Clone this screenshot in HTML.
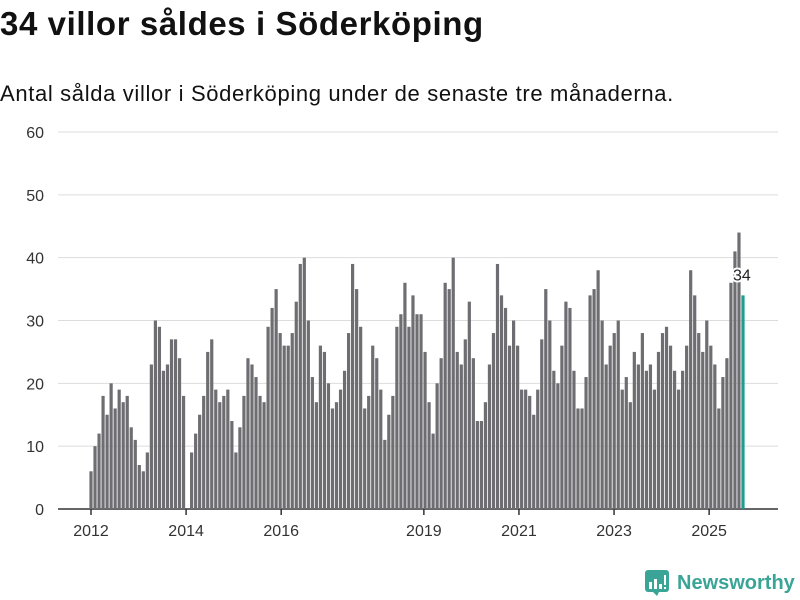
<!DOCTYPE html>
<html><head><meta charset="utf-8"><style>
body{margin:0;background:#fff;font-family:"Liberation Sans","DejaVu Sans",sans-serif;}
#wrap{position:relative;width:800px;height:600px;overflow:hidden;}
h1{position:absolute;left:0;top:5px;margin:0;font-size:33px;font-weight:bold;color:#111;letter-spacing:0.6px}
p.sub{position:absolute;left:0;top:81px;margin:0;font-size:22px;color:#111;letter-spacing:0.65px}
</style></head><body>
<div id="wrap">
<h1>34 villor såldes i Söderköping</h1>
<p class="sub">Antal sålda villor i Söderköping under de senaste tre månaderna.</p>
<svg id="chart" width="800" height="600" style="position:absolute;left:0;top:0"></svg>
<div style="position:absolute;left:645px;top:570px;display:flex;align-items:center">
<svg width="24" height="26" viewBox="0 0 24 26"><rect x="0" y="0" width="24" height="22" rx="3" fill="#3aa597"/><path d="M8 22 L12 26 L14 22Z" fill="#3aa597"/><rect x="4" y="12" width="3" height="7" fill="#fff"/><rect x="9" y="9" width="3" height="10" fill="#fff"/><rect x="14" y="14" width="3" height="5" fill="#fff"/><rect x="19" y="5" width="2" height="10" fill="#fff"/><rect x="19" y="17" width="2" height="2" fill="#fff"/></svg>
<span style="margin-left:8px;font-size:20px;color:#3aa597;font-weight:bold">Newsworthy</span></div>
</div>
<script>
const values=[6,10,12,18,15,20,16,19,17,18,13,11,7,6,9,23,30,29,22,23,27,27,24,18,0,
9,12,15,18,25,27,19,17,18,19,14,9,13,18,24,23,21,18,17,29,32,35,28,26,
26,28,33,39,40,30,21,17,26,25,20,16,17,19,22,28,39,35,29,16,18,26,24,19,
11,15,18,29,31,36,29,34,31,31,25,17,12,20,24,36,35,40,25,23,27,33,24,14,
14,17,23,28,39,34,32,26,30,26,19,19,18,15,19,27,35,30,22,20,26,33,32,22,
16,16,21,34,35,38,30,23,26,28,30,19,21,17,25,23,28,22,23,19,25,28,29,26,
22,19,22,26,38,34,28,25,30,26,23,16,21,24,36,41,44,34];
const yTicks=[0,10,20,30,40,50,60];
const xTickYears=[2012,2014,2016,2019,2021,2023,2025];
const svg=document.getElementById('chart');const NS='http://www.w3.org/2000/svg';
function el(t,a){const e=document.createElementNS(NS,t);for(const k in a)e.setAttribute(k,a[k]);svg.appendChild(e);return e;}
const y=v=>509-v*(377/60);
const x0=91,x1=743,step=(x1-x0)/(values.length-1);
const xi=i=>x0+i*step;
const xYear=yr=>91+(yr-2012)*47.55;
yTicks.forEach(t=>{
 const g=el('line',{x1:58,x2:778,y1:y(t),y2:y(t),stroke:t===0?'#333':'#ddd','stroke-width':t===0?1.5:1});
 
 
 const l=el('text',{x:44,y:y(t)+6,'text-anchor':'end','font-size':16,fill:'#333','font-family':'Liberation Sans, sans-serif'});
 l.textContent=t;
 
 
});
values.forEach((v,i)=>{
 if(!v)return;
 const last=i===values.length-1;
 const r=el('rect',{x:xi(i)-1.6,y:y(v),width:3.2,height:509-y(v),fill:last?'#1a9e8f':'#6e6d72'});
 
 
});
xTickYears.forEach(yr=>{
 const t=el('line',{x1:xYear(yr),x2:xYear(yr),y1:509,y2:515,stroke:'#333','stroke-width':1.5});
 
 
 const l=el('text',{x:xYear(yr),y:536,'text-anchor':'middle','font-size':16,fill:'#333','font-family':'Liberation Sans, sans-serif'});
 l.textContent=yr;
 
 
});
const lv=values[values.length-1];
const lab=el('text',{x:xi(values.length-1)-10,y:y(lv)-15,'font-size':16,fill:'#222',stroke:'#fff','stroke-width':4,'paint-order':'stroke','font-family':'Liberation Sans, sans-serif'});
lab.textContent=lv;


</script>
</body></html>
